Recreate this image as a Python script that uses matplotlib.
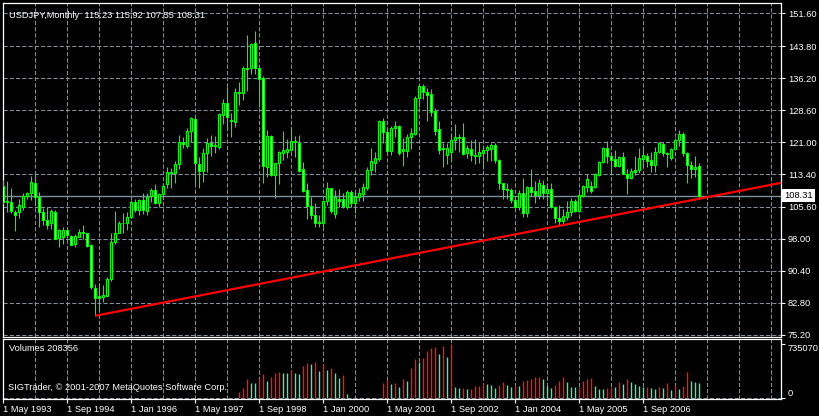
import numpy as np
import pandas as pd
import matplotlib
matplotlib.use("Agg")
import matplotlib.pyplot as plt

# ---- data: USDJPY monthly candles, May 1993 .. Nov 2007 ----
opens = [110.5, 107.1, 106.8, 104.4, 104.5, 105.5, 108.3, 108.8, 111.4, 107.9, 104.3, 102.4,
         101.7, 104.5, 98.3, 98.4, 100.2, 98.6, 96.7, 98.5, 99.6, 99.3, 96.5, 86.4,
         84.5, 84.3, 84.5, 88.4, 97.2, 99.5, 101.9, 101.7, 103.1, 106.7, 104.9, 107.2,
         104.7, 108.1, 109.6, 106.6, 108.6, 111.0, 113.8, 113.6, 115.7, 121.0, 120.0, 123.6,
         126.6, 115.7, 114.1, 118.3, 120.9, 120.2, 119.9, 127.4, 130.2, 126.3, 125.7, 132.9,
         132.6, 138.5, 138.5, 144.5, 138.7, 136.2, 115.0, 122.5, 113.2, 116.0, 118.5, 118.6,
         119.1, 121.3, 120.7, 114.5, 109.6, 105.9, 103.8, 102.0, 101.9, 107.0, 110.0, 104.0,
         107.6, 107.5, 105.5, 109.1, 106.5, 107.9, 108.7, 110.0, 114.4, 116.1, 116.9, 126.0,
         123.3, 119.0, 124.3, 124.8, 118.8, 119.0, 122.1, 122.9, 131.4, 134.3, 133.0, 132.4,
         128.4, 124.0, 119.5, 117.9, 118.7, 121.4, 122.1, 122.3, 118.3, 119.3, 117.9, 117.6,
         118.5, 119.1, 119.4, 120.3, 116.8, 111.2, 109.8, 109.6, 107.3, 105.5, 108.9, 104.1,
         110.3, 109.4, 108.5, 110.7, 108.8, 109.8, 105.5, 103.0, 102.3, 103.3, 104.5, 107.1,
         104.7, 108.3, 110.4, 110.6, 110.3, 113.2, 116.2, 119.5, 117.7, 116.9, 115.3, 117.4,
         113.4, 112.4, 114.4, 114.4, 117.0, 117.8, 116.8, 115.6, 118.7, 120.6, 118.3, 117.2,
         119.3, 121.4, 122.9, 118.3, 115.6, 114.5, 115.23]
highs = [112.1, 111.7, 110.2, 104.8, 107.4, 109.0, 109.2, 112.9, 113.4, 109.2, 105.4, 105.6,
         105.0, 104.9, 100.3, 100.8, 100.4, 99.0, 99.2, 100.3, 101.3, 99.5, 96.7, 87.4,
         87.5, 87.0, 89.0, 99.3, 104.6, 102.3, 104.1, 104.5, 107.2, 107.4, 107.6, 108.8,
         109.0, 110.0, 111.0, 109.0, 111.2, 115.0, 114.9, 116.4, 122.7, 122.3, 124.3, 127.0,
         127.0, 117.5, 119.5, 121.9, 122.8, 122.5, 127.8, 131.2, 134.2, 128.0, 133.8, 135.4,
         139.1, 146.4, 144.5, 147.4, 138.9, 136.7, 123.9, 122.8, 116.1, 118.9, 123.6, 121.7,
         124.7, 122.5, 122.7, 116.2, 111.2, 108.0, 106.5, 103.7, 107.3, 111.5, 110.2, 109.6,
         109.9, 108.8, 109.6, 109.6, 109.1, 110.0, 111.2, 115.0, 119.5, 118.7, 126.3, 126.7,
         124.4, 124.8, 126.0, 125.1, 121.9, 122.9, 124.3, 132.0, 134.7, 134.7, 133.8, 133.5,
         129.2, 125.9, 120.7, 120.9, 122.9, 125.3, 122.9, 125.5, 120.3, 121.5, 121.7, 121.1,
         120.3, 120.3, 120.9, 120.7, 116.9, 111.4, 111.2, 110.0, 107.9, 109.6, 112.4, 110.6,
         114.5, 111.8, 112.2, 112.0, 111.2, 111.4, 105.8, 106.1, 105.0, 106.9, 107.7, 107.4,
         108.9, 110.8, 113.4, 111.8, 113.6, 116.4, 119.8, 121.3, 118.3, 119.1, 117.7, 118.7,
         114.5, 114.8, 117.6, 119.5, 120.3, 118.3, 118.7, 119.9, 121.0, 121.1, 118.7, 119.5,
         121.9, 123.9, 123.3, 118.7, 116.4, 117.6, 115.92]
lows = [106.4, 104.5, 104.1, 99.9, 103.0, 104.8, 107.6, 107.2, 106.0, 100.9, 101.3, 100.3,
        100.3, 98.0, 96.1, 96.8, 98.2, 96.5, 96.1, 98.4, 98.1, 96.1, 86.2, 79.75,
        80.7, 83.1, 84.4, 88.1, 96.8, 99.4, 99.5, 100.1, 102.9, 104.5, 103.7, 104.0,
        103.7, 106.7, 106.4, 105.6, 108.2, 110.2, 110.2, 111.2, 114.5, 119.5, 119.5, 121.1,
        111.2, 110.2, 111.6, 114.0, 117.7, 118.3, 119.4, 125.3, 123.9, 122.1, 124.5, 129.8,
        131.0, 133.2, 137.1, 137.2, 129.4, 111.4, 112.8, 113.0, 107.8, 111.0, 116.8, 117.3,
        119.0, 117.4, 114.0, 109.2, 102.7, 102.7, 100.9, 100.9, 100.9, 106.1, 104.1, 103.0,
        105.7, 105.3, 105.0, 105.5, 104.1, 106.9, 106.9, 109.6, 113.2, 114.0, 116.6, 120.9,
        117.9, 117.9, 122.3, 117.9, 115.3, 117.4, 119.4, 122.7, 129.4, 131.2, 126.1, 127.3,
        122.7, 118.2, 115.2, 115.7, 116.6, 119.1, 118.7, 117.9, 117.2, 116.4, 115.7, 116.0,
        114.6, 116.6, 116.4, 116.0, 109.8, 107.6, 107.4, 106.5, 105.3, 104.9, 103.3, 103.1,
        108.2, 106.6, 107.4, 107.4, 107.1, 105.4, 101.9, 101.3, 101.3, 102.5, 103.5, 104.5,
        104.5, 108.0, 109.2, 109.0, 110.0, 113.0, 116.0, 116.0, 113.2, 115.2, 115.2, 113.4,
        108.7, 112.2, 113.2, 113.6, 115.2, 115.2, 114.0, 114.0, 118.3, 117.6, 115.0, 116.8,
        119.1, 120.0, 117.8, 111.4, 112.4, 112.8, 107.55]
closes = [106.8, 106.8, 104.6, 103.6, 106.0, 108.3, 109.0, 111.6, 108.0, 104.3, 102.5, 101.4,
          104.6, 98.1, 100.1, 100.2, 99.0, 96.6, 98.6, 99.7, 99.3, 96.3, 86.5, 84.0,
          84.0, 84.6, 88.4, 97.2, 99.5, 101.7, 101.7, 103.3, 106.7, 104.9, 107.2, 104.9,
          108.0, 109.6, 106.6, 108.6, 110.6, 113.8, 113.6, 115.7, 121.1, 120.6, 123.6, 126.8,
          116.0, 114.1, 118.3, 120.7, 120.0, 120.1, 127.6, 130.2, 126.9, 126.0, 132.8, 132.6,
          138.5, 138.3, 144.2, 138.7, 136.0, 115.4, 122.5, 113.2, 116.0, 118.7, 119.1, 119.4,
          121.3, 121.0, 114.2, 109.5, 105.9, 103.8, 101.9, 101.8, 107.0, 110.0, 104.6, 108.0,
          107.1, 105.9, 109.1, 106.5, 108.0, 109.0, 110.4, 114.4, 116.5, 117.2, 126.0, 123.3,
          119.0, 124.3, 124.8, 118.5, 119.4, 122.1, 123.1, 131.4, 134.3, 133.0, 132.2, 128.2,
          123.6, 119.1, 119.4, 119.5, 121.5, 122.1, 122.0, 118.2, 119.5, 117.9, 117.8, 118.7,
          119.1, 119.8, 120.3, 116.8, 111.2, 109.8, 109.6, 107.3, 105.5, 108.8, 104.1, 110.3,
          109.2, 108.5, 111.2, 108.8, 109.9, 105.5, 102.9, 102.3, 103.5, 104.5, 107.1, 104.6,
          108.5, 110.6, 112.2, 109.3, 113.4, 116.2, 119.5, 117.6, 116.8, 115.3, 117.4, 113.5,
          112.4, 114.1, 114.0, 117.2, 117.9, 116.6, 115.6, 118.7, 120.7, 118.4, 118.1, 119.3,
          121.5, 122.9, 118.3, 115.6, 114.5, 115.2, 108.31]

# tick volume (starts Apr 1998; no data Aug 2000 - Mar 2001)
vol_start = 59
volumes = [90000, 144000, 262000, 212000, 205000, 271000, 329000, 239000, 293000, 347000,
           361000, 347000, 338000, 383000, 338000, 329000, 437000, 474000, 465000, 492000,
           374000, 465000, 383000, 406000, 347000, 271000, 316000, 59000,
           0, 0, 0, 0, 0, 0, 0, 0,
           203000, 248000, 194000, 212000, 149000, 257000, 230000,
           415000, 532000, 487000, 550000, 645000, 685000, 699000, 600000, 713000, 564000,
           735070, 158000, 135000, 140000, 122000, 128000, 167000, 170000, 212000, 194000,
           180000, 140000, 180000, 225000, 180000, 149000, 180000, 167000, 235000, 248000,
           262000, 284000, 287000, 262000, 167000, 135000, 180000, 235000, 284000, 216000,
           149000, 145000, 158000, 239000, 262000, 280000, 167000, 122000, 118000, 144000,
           158000, 149000, 216000, 194000, 257000, 216000, 194000, 167000, 150000, 158000,
           135000, 122000, 149000, 135000, 212000, 113000, 180000, 122000, 167000, 361000,
           235000, 225000, 208356]

price_ticks = [151.60, 143.80, 136.20, 128.60, 121.00, 113.40, 105.60, 98.00, 90.40, 82.80, 75.20]
date_labels = ['1 May 1993', '1 Sep 1994', '1 Jan 1996', '1 May 1997', '1 Sep 1998', '1 Jan 2000',
               '1 May 2001', '1 Sep 2002', '1 Jan 2004', '1 May 2005', '1 Sep 2006']
trend_x = [23, 174]          # Apr 1995 low -> Nov 2007 low
trend_y = [79.75, 107.55]
bid = 108.31
vol_max = 735070

# ---- style ----
BG = 'black'
CANDLE = '#00ff00'
GRID = '#8090a0'
UPV = '#ff1414'
DNV = '#3ef0b0'
plt.rcParams['font.family'] = ['Liberation Sans', 'DejaVu Sans']
FS = 6.7

O = np.array(opens); H = np.array(highs); L = np.array(lows); C = np.array(closes)
idx = np.arange(len(O))
months = pd.date_range('1993-05-01', periods=len(O), freq='MS')
names = ['1 ' + d.strftime('%b %Y') for d in months]
label_pos = [names.index(s) for s in date_labels]

W, Hh = 819, 416
fig = plt.figure(figsize=(W / 100, Hh / 100), dpi=100, facecolor=BG)
ax = fig.add_axes([3 / W, 1 - 337 / Hh, 778 / W, 334 / Hh], facecolor=BG)
axv = fig.add_axes([3 / W, 1 - 399 / Hh, 778 / W, 60 / Hh], facecolor=BG, sharex=ax)

xmax = 194.5
ax.set_xlim(-0.1, xmax)
ax.set_ylim(74.7, 154.05)

for a in (ax, axv):
    for s in a.spines.values():
        s.set_color('white')
        s.set_linewidth(0.9)
    a.set_xticks(label_pos)
    a.set_xticks(np.arange(8, xmax, 8), minor=True)
    a.grid(True, which='both', axis='x', color=GRID, ls=(0, (4, 2)), lw=0.75)
    a.set_axisbelow(True)
    a.yaxis.tick_right()
    a.tick_params(axis='y', which='both', colors='white', length=3, width=0.8, labelsize=FS, pad=2)
    a.tick_params(axis='x', which='minor', length=0)

ax.tick_params(axis='x', which='major', length=0, labelbottom=False)
ax.set_yticks(price_ticks)
ax.set_yticklabels([f'{v:.2f}' for v in price_ticks])
ax.grid(True, axis='y', color=GRID, ls=(0, (4, 2)), lw=0.75)

# candles
ax.vlines(idx, L, H, color=CANDLE, lw=0.8, zorder=3)
bull = C >= O
ax.bar(idx[bull], (C - O)[bull], bottom=O[bull], width=0.5, color='black',
       edgecolor=CANDLE, lw=0.8, zorder=4)
ax.bar(idx[~bull], (O - C)[~bull], bottom=C[~bull], width=0.5, color='white',
       edgecolor=CANDLE, lw=0.8, zorder=4)

# bid line + label
ax.axhline(bid, color=GRID, lw=1.0, zorder=2)
ax.text(1.004, bid, f'{bid:.2f}', transform=ax.get_yaxis_transform(), ha='left', va='center',
        color='black', fontsize=FS, clip_on=False, zorder=6,
        bbox=dict(facecolor='white', edgecolor='none', pad=1.4))

# trend ray
slope = (trend_y[1] - trend_y[0]) / (trend_x[1] - trend_x[0])
ax.plot([trend_x[0], xmax], [trend_y[0], trend_y[0] + slope * (xmax - trend_x[0])],
        color='red', lw=1.6, zorder=5, solid_capstyle='butt')

ax.text(6 / 778, 1 - 8 / 334, 'USDJPY,Monthly  115.23 115.92 107.55 108.31', transform=ax.transAxes,
        color='white', fontsize=FS, ha='left', va='top')

# volumes
vol = np.array(volumes, dtype=float)
vidx = np.arange(vol_start, vol_start + len(vol))
prev = np.concatenate([[0], vol[:-1]])
vcol = [UPV if v > p else DNV for v, p in zip(vol, prev)]
keep = vol > 0
axv.vlines(vidx[keep], 0, vol[keep], colors=np.array(vcol)[keep], lw=1.0, zorder=3)
axv.set_ylim(-vol_max * 0.015, vol_max * 60 / 55)
axv.axhline(0, color=GRID, ls=(0, (4, 2)), lw=0.75, zorder=1)
axv.set_yticks([0, vol_max])
axv.set_yticklabels(['0', str(vol_max)])
labs = axv.get_yticklabels()
labs[0].set_va('bottom')
labs[1].set_va('top')
axv.set_xticklabels(date_labels)
axv.tick_params(axis='x', which='major', colors='white', length=3, width=0.8, labelsize=FS, pad=1.5)
for t in axv.get_xticklabels():
    t.set_ha('left')
axv.text(6 / 778, 1 - 5 / 60, f'Volumes {volumes[-1]}', transform=axv.transAxes,
         color='white', fontsize=FS, ha='left', va='top')
axv.text(5 / 778, 7 / 60, 'SIGTrader, \u00a9 2001-2007 MetaQuotes Software Corp.', transform=axv.transAxes,
         color='white', fontsize=FS, ha='left', va='bottom', zorder=5)

fig.savefig('out.png', dpi=100, facecolor=BG)
